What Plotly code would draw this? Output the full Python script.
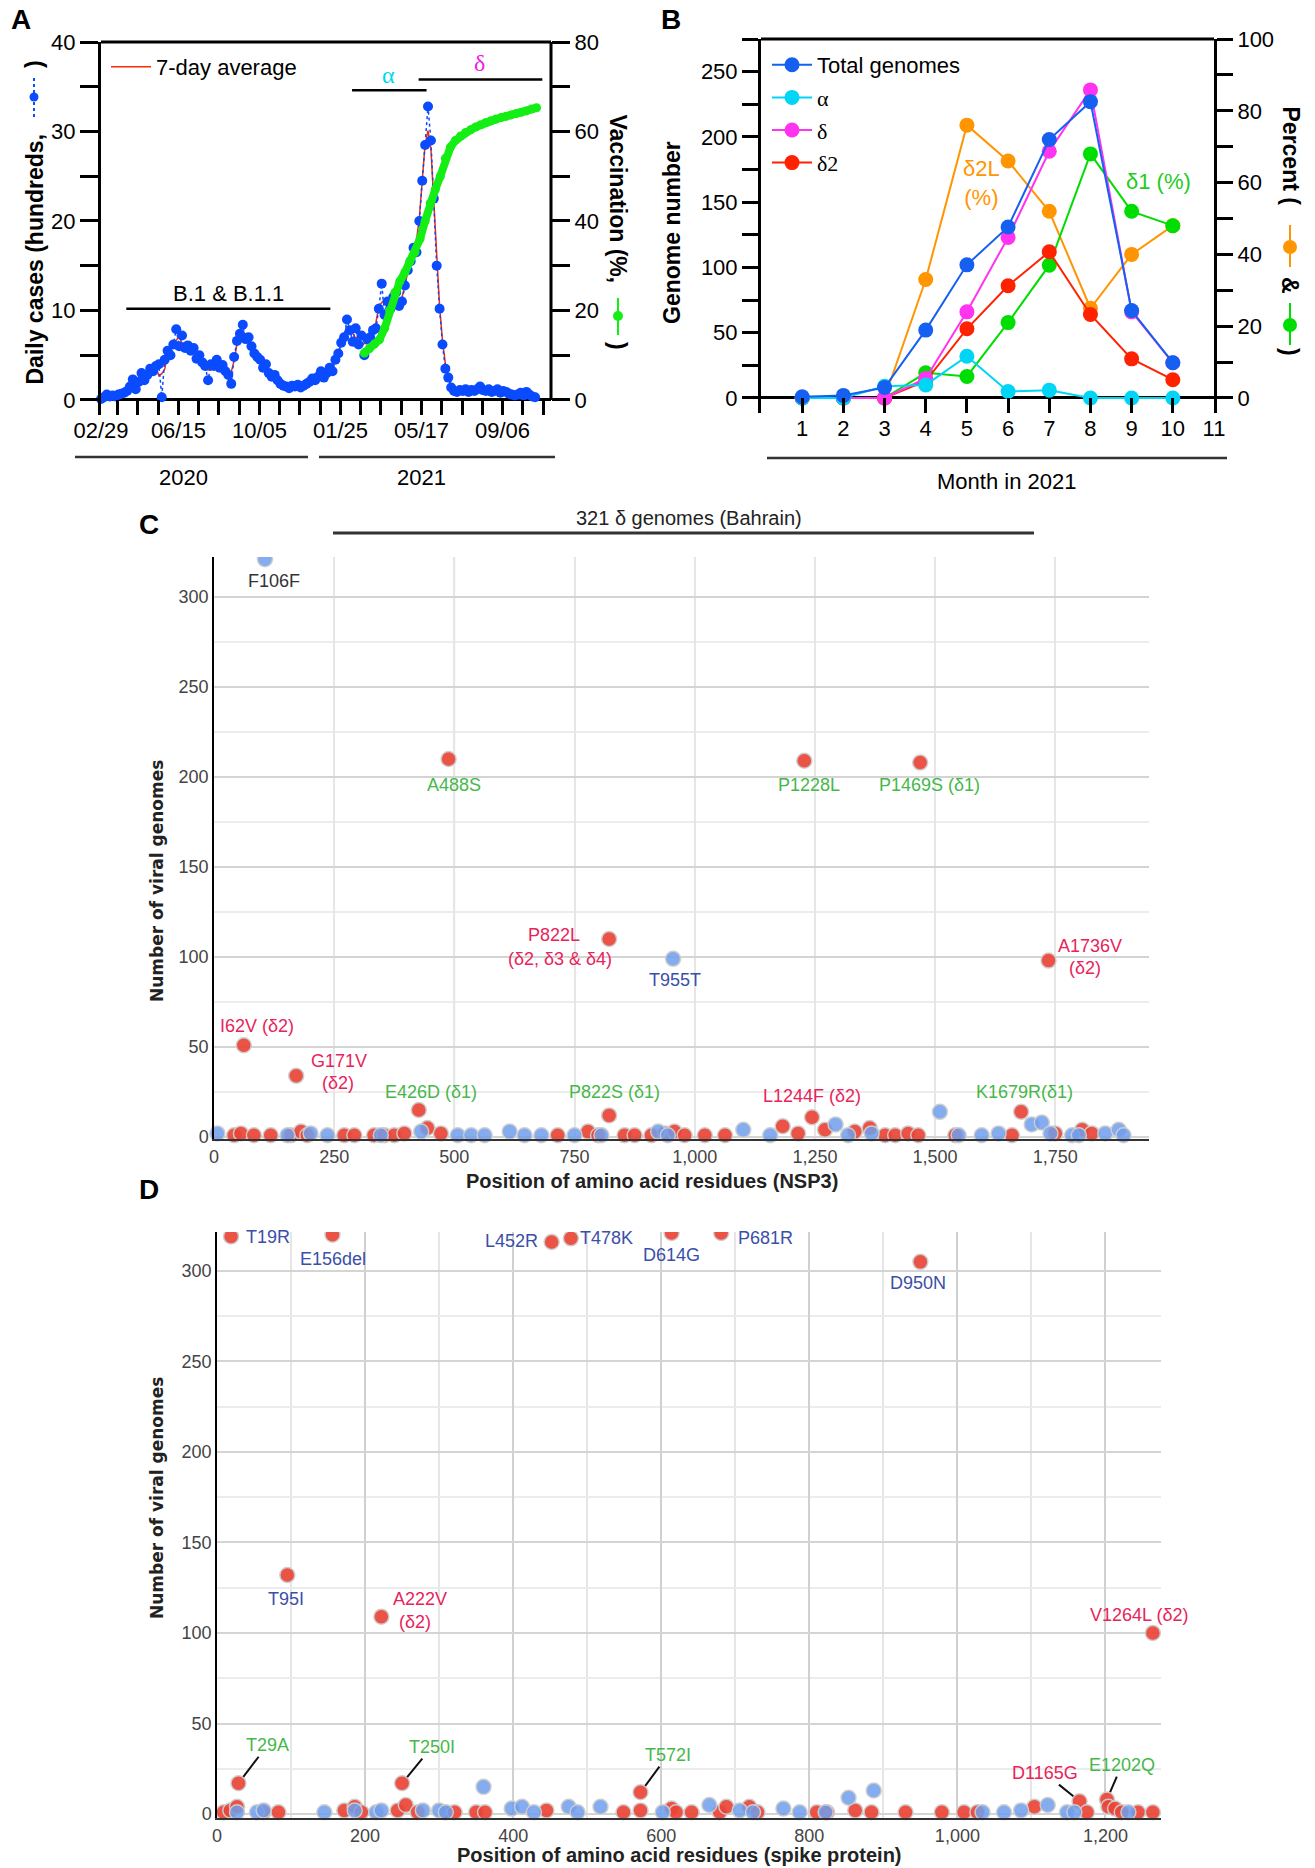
import plotly.graph_objects as go
import pandas as pd

# ------------------------------------------------------------------ data
# Panel A: daily cases in Bahrain (hundreds), sampled every 4 days from 2020-02-29
case_start = "2020-02-29"
daily_cases = [0.1, 0.3, 0.6, 0.4, 0.5, 0.4, 0.6, 0.7, 0.8, 1.0, 1.5, 2.3, 1.2, 2.0, 3.0, 2.2, 2.8, 3.5, 3.2, 3.8,
               4.0, 0.3, 4.5, 5.5, 5.0, 6.2, 7.9, 6.0, 7.2, 5.8, 6.1, 5.5, 5.8, 4.6, 5.0, 4.2, 3.8, 2.2, 4.0, 3.8,
               4.5, 3.6, 3.9, 3.2, 2.8, 1.8, 4.8, 6.6, 7.4, 8.4, 6.8, 7.0, 6.0, 5.2, 4.8, 4.5, 3.6, 4.0, 3.0, 2.6,
               2.8, 2.2, 1.8, 1.6, 1.5, 1.3, 1.6, 1.5, 1.7, 1.4, 1.6, 1.8, 2.0, 2.4, 2.2, 2.6, 3.2, 2.5, 3.0, 3.6,
               3.2, 4.5, 5.2, 6.4, 7.0, 9.0, 7.8, 6.5, 8.0, 6.2, 7.2, 5.0, 6.8, 7.0, 7.8, 8.0, 10.2, 13.0, 9.5, 11.0,
               10.2, 11.5, 12.0, 10.5, 11.0, 12.8, 14.5, 15.5, 17.0, 16.5, 20.0, 24.5, 28.5, 32.8, 29.0, 22.5, 15.0, 10.2, 6.2, 3.5,
               2.5, 1.4, 1.0, 0.9, 1.1, 1.0, 1.2, 0.9, 1.1, 1.0, 1.2, 1.5, 1.1, 1.0, 1.2, 0.9, 1.0, 1.2, 0.8, 1.0,
               0.9, 0.7, 0.6, 0.5, 0.6, 0.8, 0.5, 0.9, 0.6, 0.4, 0.3]
# vaccination (%), weekly from 2021-02-27
vacc_start = "2021-02-27"
vaccination = [10.5, 11.5, 12.5, 13.5, 16, 20, 24, 26.5, 28.5, 31, 33, 36, 40, 44, 47, 50, 54, 56.5, 58, 59,
               59.8, 60.4, 61, 61.5, 62, 62.4, 62.8, 63.1, 63.4, 63.7, 64, 64.3, 64.6, 65, 65.3]
a_tick_dates = ["2020-02-29", "2020-06-15", "2020-10-05", "2021-01-25", "2021-05-17", "2021-09-06"]
a_tick_text = ["02/29", "06/15", "10/05", "01/25", "05/17", "09/06"]

# Panel B: genomes per month of 2021
months = [1, 2, 3, 4, 5, 6, 7, 8, 9, 10]
total_genomes = [1, 2, 8, 52, 102, 131, 198, 227, 67, 27]
alpha_genomes = [0, 0, 9, 10, 32, 5, 6, 0, 0, 0]
delta_genomes = [0, 0, 0, 15, 66, 123, 189, 236, 66, 27]
delta2_genomes = [0, 0, 0, 13, 53, 86, 112, 64, 30, 14]
delta2L_pct = [0, 0, 0, 33, 76, 66, 52, 25, 40, 48]
delta1_pct = [0, 0, 0, 7, 6, 21, 37, 68, 52, 48]

# Panel C: NSP3 mutations (position, number of genomes)
nsp3_red_pos = [62, 171, 426, 488, 822, 822, 1228, 1244, 1469, 1679, 1736,
                42, 56, 83, 118, 160, 181, 194, 271, 292, 333, 354, 375, 396, 444, 472,
                715, 778, 799, 854, 875, 910, 938, 958, 979, 1021, 1063,
                1183, 1215, 1271, 1333, 1364, 1396, 1417, 1444, 1465, 1542, 1660, 1750, 1806, 1826]
nsp3_red_cnt = [51, 34, 15, 210, 110, 12, 209, 11, 208, 14, 98,
                1, 2, 1, 1, 1, 3, 1, 1, 1, 1, 1, 1, 2, 5, 2,
                1, 3, 1, 1, 1, 1, 2, 3, 1, 1, 1,
                6, 2, 4, 3, 5, 1, 1, 2, 1, 1, 1, 2, 4, 2]
nsp3_blue_pos = [106, 955, 1510, 7, 153, 201, 236, 347, 431, 507, 535, 563, 615,
                 646, 681, 750, 806, 924, 944, 1101, 1157, 1293, 1319,
                 1368, 1549, 1597, 1632, 1701, 1722, 1740, 1785, 1799, 1854, 1882, 1892]
nsp3_blue_cnt = [321, 99, 14, 2, 1, 2, 1, 1, 3, 1, 1, 1, 3,
                 1, 1, 1, 1, 3, 1, 4, 1, 7, 1,
                 2, 1, 1, 2, 7, 8, 2, 1, 1, 2, 4, 1]

# Panel D: spike mutations
spike_red_pos = [19, 156, 452, 478, 614, 681, 950, 95, 222, 1264, 29, 250, 572, 1165, 1202,
                 9, 18, 27, 63, 83, 172, 186, 195, 244, 255, 271, 308, 321, 350, 362, 445, 549, 572, 614, 620,
                 641, 679, 688, 719, 730, 810, 824, 862, 884, 930, 979, 1009, 1027, 1104, 1175, 1204, 1213, 1222, 1244, 1264]
spike_red_cnt = [319, 320, 316, 318, 321, 321, 305, 132, 109, 100, 17, 17, 12, 7, 8,
                 1, 2, 4, 1, 1, 2, 4, 1, 2, 5, 1, 1, 1, 1, 1, 2, 1, 2, 3, 1,
                 1, 1, 4, 4, 1, 1, 1, 2, 1, 1, 1, 1, 1, 4, 1, 4, 3, 1, 1, 1]
spike_blue_pos = [360, 887, 853, 1122, 27, 54, 63, 145, 186, 215, 222, 278, 300, 309, 398, 412, 428,
                  475, 487, 518, 602, 665, 706, 724, 765, 787, 822, 1034, 1063, 1086, 1148, 1158, 1231]
spike_blue_cnt = [15, 13, 9, 5, 1, 1, 2, 1, 2, 1, 2, 2, 2, 1, 3, 4, 1,
                  4, 1, 4, 1, 5, 2, 1, 3, 1, 1, 1, 1, 2, 1, 1, 1]

# ------------------------------------------------------------------ helpers
W, H = 1315, 1868
def PX(x): return x / W
def PY(y): return 1 - y / H

FONT = "Liberation Sans, Arial, Helvetica, sans-serif"
SERIF = "Liberation Serif, Times New Roman, serif"
PINK = "#E8235A"
GREEN_T = "#45B84A"
BLUE_T = "#3A4FA8"

fig = go.Figure()

# ------------------------------------------------------------------ panel A
dates = pd.date_range(case_start, periods=len(daily_cases), freq="4D")
avg7 = pd.Series(daily_cases).rolling(3, center=True, min_periods=1).mean()
fig.add_trace(go.Scatter(x=dates, y=avg7, mode="lines", xaxis="x", yaxis="y", name="7-day average",
                         line=dict(color="#FF2A00", width=1.5), legend="legend"))
fig.add_trace(go.Scatter(x=dates, y=daily_cases, mode="lines+markers", xaxis="x", yaxis="y",
                         line=dict(color="#0A4BFF", width=1.5, dash="dot"),
                         marker=dict(color="#0A4BFF", size=10), showlegend=False, cliponaxis=False))
vdates = pd.date_range(vacc_start, periods=len(vaccination), freq="7D")
fig.add_trace(go.Scatter(x=vdates, y=vaccination, mode="lines+markers", xaxis="x", yaxis="y2",
                         line=dict(color="#14EE14", width=8), marker=dict(color="#14EE14", size=9),
                         showlegend=False))

# ------------------------------------------------------------------ panel B
B_ORANGE, B_GREEN = "#FF9500", "#00DD00"
B_RED, B_MAG, B_CYAN, B_BLUE = "#FF2200", "#FF33F0", "#00D5F5", "#1560F0"
fig.add_trace(go.Scatter(x=months, y=delta2L_pct, mode="lines+markers", xaxis="x2", yaxis="y4",
                         line=dict(color=B_ORANGE, width=2), marker=dict(color=B_ORANGE, size=15),
                         showlegend=False, cliponaxis=False))
fig.add_trace(go.Scatter(x=months, y=delta1_pct, mode="lines+markers", xaxis="x2", yaxis="y4",
                         line=dict(color=B_GREEN, width=2), marker=dict(color=B_GREEN, size=15),
                         showlegend=False, cliponaxis=False))
b_series = [
    (delta2_genomes, B_RED, "δ2", 4),
    (delta_genomes, B_MAG, "δ", 3),
    (alpha_genomes, B_CYAN, "α", 2),
    (total_genomes, B_BLUE, "Total genomes", 1),
]
for vals, col, nm, rank in b_series:
    label = nm if nm == "Total genomes" else f'<span style="font-family:{SERIF}">{nm}</span>'
    fig.add_trace(go.Scatter(x=months, y=vals, mode="lines+markers", xaxis="x2", yaxis="y3",
                             name=label, legend="legend2", legendrank=rank, legendgroup=nm,
                             line=dict(color=col, width=2), marker=dict(color=col, size=15),
                             cliponaxis=False))

# ------------------------------------------------------------------ panels C & D (scatter)
RED_M = dict(color="rgba(234,68,55,0.92)", size=15, line=dict(color="rgba(205,205,205,0.95)", width=1.5))
BLUE_M = dict(color="rgba(112,158,236,0.85)", size=15, line=dict(color="rgba(205,205,205,0.95)", width=1.5))

def add_points(pos, cnt, marker, xa, ya):
    lo = [(p, c) for p, c in zip(pos, cnt) if c < 300]
    hi = [(p, c) for p, c in zip(pos, cnt) if c >= 300]
    for pts, clip in ((lo, False), (hi, True)):
        if not pts:
            continue
        fig.add_trace(go.Scatter(x=[p for p, _ in pts], y=[c for _, c in pts], mode="markers",
                                 xaxis=xa, yaxis=ya, marker=marker, showlegend=False, cliponaxis=clip))

add_points(nsp3_red_pos, nsp3_red_cnt, RED_M, "x3", "y5")
add_points(nsp3_blue_pos, nsp3_blue_cnt, BLUE_M, "x3", "y5")
add_points(spike_red_pos, spike_red_cnt, RED_M, "x4", "y6")
add_points(spike_blue_pos, spike_blue_cnt, BLUE_M, "x4", "y6")

# ------------------------------------------------------------------ layout
annotations = []
shapes = []

def ann(text, x, y, xref="paper", yref="paper", size=18, color="black", family=FONT, **kw):
    d = dict(text=text, x=x, y=y, xref=xref, yref=yref, showarrow=False, xanchor="center", yanchor="middle",
             font=dict(size=size, color=color, family=family))
    d.update(kw)
    annotations.append(d)

def pline(x0, y0, x1, y1, color="black", width=2, dash=None):
    shapes.append(dict(type="line", xref="paper", yref="paper", x0=PX(x0), x1=PX(x1), y0=PY(y0), y1=PY(y1),
                       line=dict(color=color, width=width, dash=dash)))

def pcircle(cx, cy, r, color):
    shapes.append(dict(type="circle", xref="paper", yref="paper", x0=PX(cx - r), x1=PX(cx + r),
                       y0=PY(cy + r), y1=PY(cy - r), fillcolor=color, line=dict(color=color, width=0)))

# panel letters
for t, x, y in (("A", 21, 20), ("B", 671, 20), ("C", 149, 524), ("D", 149, 1189)):
    ann(f"<b>{t}</b>", PX(x), PY(y), size=28)

# ---- A decorations
ann("<b>Daily cases (hundreds,</b>", PX(34), PY(132), size=23, textangle=-90, yanchor="top")
ann("<b>)</b>", PX(34), PY(64), size=23, textangle=-90)
pline(34, 78, 34, 117, color="#0A4BFF", width=2, dash="dot")
pcircle(34, 97, 4.5, "#0A4BFF")
ann("<b>Vaccination (%,</b>", PX(618), PY(112), size=23, textangle=90, yanchor="top")
ann("<b>)</b>", PX(618), PY(346), size=23, textangle=90)
pline(618, 298, 618, 335, color="#14EE14", width=2)
pcircle(618, 316, 5, "#14EE14")
pline(75, 457, 308, 457, color="#333", width=2.5)
pline(319, 457, 555, 457, color="#333", width=2.5)
ann("2020", PX(183), PY(478), size=22)
ann("2021", PX(421), PY(478), size=22)
# variant periods
shapes.append(dict(type="line", xref="x", yref="y", x0="2020-04-04", x1="2021-01-11", y0=10.2, y1=10.2,
                   line=dict(color="black", width=2.5)))
ann("B.1 &amp; B.1.1", "2020-08-23", 11.9, xref="x", yref="y", size=22)
shapes.append(dict(type="line", xref="x", yref="y", x0="2021-02-10", x1="2021-05-24", y0=34.6, y1=34.6,
                   line=dict(color="black", width=2.5)))
ann("α", "2021-04-02", 36.3, xref="x", yref="y", size=24, color="#00D8F0", family=SERIF)
shapes.append(dict(type="line", xref="x", yref="y", x0="2021-05-13", x1="2021-10-31", y0=35.8, y1=35.8,
                   line=dict(color="black", width=2.5)))
ann("δ", "2021-08-05", 37.6, xref="x", yref="y", size=24, color="#F020E6", family=SERIF)
# frame
shapes.append(dict(type="line", xref="x domain", yref="y domain", x0=0, x1=1, y0=1, y1=1,
                   line=dict(color="black", width=3)))
shapes.append(dict(type="line", xref="x domain", yref="y2", x0=1, x1=1, y0=0, y1=80,
                   line=dict(color="black", width=3)))

# ---- B decorations
ann("<b>Genome number</b>", PX(672), PY(233), size=23, textangle=-90)
ann("<b>Percent (</b>", PX(1290), PY(104), size=23, textangle=90, yanchor="top")
ann("<b>&amp;</b>", PX(1290), PY(285), size=23, textangle=90)
ann("<b>)</b>", PX(1290), PY(352), size=23, textangle=90)
pline(1290, 225, 1290, 267, color=B_ORANGE, width=2)
pcircle(1290, 247, 7, B_ORANGE)
pline(1290, 303, 1290, 345, color=B_GREEN, width=2)
pcircle(1290, 325, 7, B_GREEN)
pline(767, 458, 1227, 458, color="#333", width=2.5)
ann("Month in 2021", PX(1006), PY(481), size=22)
ann("δ2L<br>(%)", 5.35, 60, xref="x2", yref="y4", size=22, color=B_ORANGE)
ann("δ1 (%)", 9.66, 60.3, xref="x2", yref="y4", size=22, color="#22CC22")
shapes.append(dict(type="line", xref="x2 domain", yref="y4 domain", x0=0, x1=1, y0=1, y1=1,
                   line=dict(color="black", width=3)))

# ---- C decorations
ann("321 δ genomes (Bahrain)", PX(689), PY(518), size=20, color="#222")
pline(333, 533, 1034, 533, color="#333", width=3)
ann("<b>Position of amino acid residues (NSP3)</b>", PX(652), PY(1181), size=20, color="#222")
ann("<b>Number of viral genomes</b>", PX(157), PY(881), size=17, color="#222",
    family="DejaVu Sans, Verdana, sans-serif", textangle=-90)
for gx in (500, 1000, 1500):
    shapes.append(dict(type="line", xref="x3", yref="y5 domain", x0=gx, x1=gx, y0=0, y1=1, layer="below",
                       line=dict(color="#D0D0D0", width=1.5)))
c_labels = [
    ("F106F", 125, 309, "#333"), ("A488S", 499, 195.5, GREEN_T), ("P1228L", 1237, 195.5, GREEN_T),
    ("P1469S (δ1)", 1489, 195.5, GREEN_T), ("P822L", 708, 112, PINK), ("(δ2, δ3 &amp; δ4)", 719, 99, PINK),
    ("T955T", 958, 87, BLUE_T), ("A1736V", 1823, 106, PINK), ("(δ2)", 1812, 94, PINK),
    ("I62V (δ2)", 90, 61.7, PINK), ("G171V", 261, 42.5, PINK), ("(δ2)", 257, 30, PINK),
    ("E426D (δ1)", 451, 24.8, GREEN_T), ("P822S (δ1)", 833, 24.8, GREEN_T),
    ("L1244F (δ2)", 1243, 23, PINK), ("K1679R(δ1)", 1687, 24.8, GREEN_T),
]
for t, x, y, c in c_labels:
    ann(t, x, y, xref="x3", yref="y5", size=18, color=c)

# ---- D decorations
ann("<b>Position of amino acid residues (spike protein)</b>", PX(679), PY(1855), size=20, color="#222")
ann("<b>Number of viral genomes</b>", PX(157), PY(1498), size=17, color="#222",
    family="DejaVu Sans, Verdana, sans-serif", textangle=-90)
d_labels = [
    ("T19R", 36, 319, BLUE_T, "left"), ("E156del", 156, 306.6, BLUE_T, "center"),
    ("L452R", 436, 316.5, BLUE_T, "right"), ("T478K", 488, 318, BLUE_T, "left"),
    ("D614G", 614, 309, BLUE_T, "center"), ("P681R", 701, 318, BLUE_T, "left"),
    ("D950N", 947, 293.5, BLUE_T, "center"), ("T95I", 93, 118.8, BLUE_T, "center"),
    ("A222V", 274, 118.8, PINK, "center"), ("(δ2)", 267, 106, PINK, "center"),
    ("V1264L (δ2)", 1245, 110, PINK, "center"),
]
for t, x, y, c, xa in d_labels:
    ann(t, x, y, xref="x4", yref="y6", size=18, color=c, xanchor=xa)
d_arrows = [
    ("T29A", 29, 17, 68, 38, GREEN_T), ("T250I", 250, 17, 290, 37, GREEN_T),
    ("T572I", 572, 12, 609, 32.5, GREEN_T), ("D1165G", 1165, 7, 1118, 22.6, PINK),
    ("E1202Q", 1202, 8, 1222, 27, GREEN_T),
]
for t, x, y, tx, ty, c in d_arrows:
    annotations.append(dict(text=t, x=x, y=y, xref="x4", yref="y6", ax=tx, ay=ty, axref="x4", ayref="y6",
                            showarrow=True, arrowhead=0, arrowwidth=2, arrowcolor="#111", standoff=8,
                            font=dict(size=18, color=c, family=FONT)))

# ------------------------------------------------------------------ axes
TICKF = dict(size=22, color="black", family=FONT)
minor_a_x = pd.date_range("2020-03-23", "2021-11-12", freq="28D")
GRID_MAJ, GRID_MIN = "#D4D4D4", "#ECECEC"
TICKCD = dict(size=18, color="#444", family=FONT)

fig.update_layout(
    width=W, height=H, margin=dict(l=0, r=0, t=0, b=0, autoexpand=False),
    paper_bgcolor="white", plot_bgcolor="rgba(0,0,0,0)",
    font=dict(family=FONT, color="black"),
    legend=dict(x=PX(106), y=PY(46), xanchor="left", yanchor="top", bgcolor="rgba(0,0,0,0)",
                font=dict(size=22, family=FONT), itemwidth=40),
    legend2=dict(x=PX(767), y=PY(44), xanchor="left", yanchor="top", bgcolor="rgba(0,0,0,0)",
                 font=dict(size=22, family=FONT), tracegroupgap=1, itemwidth=40),
    # --- A
    xaxis=dict(domain=[PX(101), PX(551)], anchor="y", type="date", range=["2020-02-29", "2021-11-12"],
               tickmode="array", tickvals=a_tick_dates, ticktext=a_tick_text,
               ticks="inside", ticklen=15, tickwidth=3, tickcolor="black",
               minor=dict(ticks="inside", ticklen=15, tickwidth=3, tickcolor="black",
                          tickmode="array", tickvals=list(minor_a_x)),
               showline=False, showgrid=False, zeroline=False, tickfont=TICKF, automargin=False),
    yaxis=dict(domain=[PY(415), PY(42)], anchor="x", range=[-1.68, 40], tick0=0, dtick=10,
               ticks="outside", ticklen=18, tickwidth=3, tickcolor="black",
               minor=dict(ticks="outside", ticklen=18, tickwidth=3, tickcolor="black", dtick=5, tick0=0),
               showline=True, linewidth=3, linecolor="black", showgrid=False,
               zeroline=True, zerolinewidth=3, zerolinecolor="black", tickfont=TICKF, automargin=False),
    yaxis2=dict(overlaying="y", side="right", anchor="x", range=[-3.36, 80], tick0=0, dtick=20,
                ticks="outside", ticklen=18, tickwidth=3, tickcolor="black",
                minor=dict(ticks="outside", ticklen=18, tickwidth=3, tickcolor="black", dtick=10, tick0=0),
                showline=False, showgrid=False, zeroline=False, tickfont=TICKF, automargin=False),
    # --- B
    xaxis2=dict(domain=[PX(761), PX(1214)], anchor="y4", range=[0, 11], tickmode="array",
                tickvals=list(range(1, 12)), ticks="inside", ticklen=15, tickwidth=3, tickcolor="black",
                showline=False, showgrid=False, zeroline=False, tickfont=TICKF, automargin=False),
    yaxis4=dict(domain=[PY(413), PY(39)], anchor="x2", side="right", range=[-4.18, 100], tick0=0, dtick=20,
                ticks="outside", ticklen=16, tickwidth=3, tickcolor="black",
                minor=dict(ticks="outside", ticklen=16, tickwidth=3, tickcolor="black", dtick=10, tick0=0),
                showline=True, linewidth=3, linecolor="black", showgrid=False, zeroline=False, tickfont=TICKF,
                automargin=False),
    yaxis3=dict(overlaying="y4", side="left", anchor="x2", range=[-11.5, 275], tick0=0, dtick=50,
                ticks="outside", ticklen=16, tickwidth=3, tickcolor="black",
                minor=dict(ticks="outside", ticklen=16, tickwidth=3, tickcolor="black", dtick=25, tick0=0),
                showline=True, linewidth=3, linecolor="black", showgrid=False,
                zeroline=True, zerolinewidth=3, zerolinecolor="black", tickfont=TICKF, automargin=False),
    # --- C
    xaxis3=dict(domain=[PX(214), PX(1149)], anchor="y5", range=[0, 1945], tickmode="array",
                tickvals=[0, 250, 500, 750, 1000, 1250, 1500, 1750], tickformat=",d",
                showgrid=True, gridcolor="#E6E6E6", gridwidth=1.5, showline=True, linecolor="#333",
                linewidth=2, zeroline=False, ticks="", ticklen=0, tickfont=TICKCD, automargin=False),
    yaxis5=dict(domain=[PY(1139), PY(557)], anchor="x3", range=[-1.1, 322.2], tick0=0, dtick=50,
                showgrid=True, gridcolor=GRID_MAJ, gridwidth=2,
                minor=dict(dtick=25, tick0=0, showgrid=True, gridcolor=GRID_MIN, gridwidth=1.5),
                showline=True, linecolor="black", linewidth=1.5, zeroline=False, ticks="", ticklen=0,
                tickfont=TICKCD, automargin=False),
    # --- D
    xaxis4=dict(domain=[PX(217), PX(1161)], anchor="y6", range=[0, 1275], tick0=0, dtick=200,
                tickformat=",d", showgrid=True, gridcolor="#D0D0D0", gridwidth=1.5,
                minor=dict(dtick=100, tick0=0, showgrid=True, gridcolor="#E6E6E6", gridwidth=1.5),
                showline=True, linecolor="#333", linewidth=2, zeroline=False, ticks="", ticklen=0,
                tickfont=TICKCD, automargin=False),
    yaxis6=dict(domain=[PY(1818), PY(1232)], anchor="x4", range=[-2.2, 321.5], tick0=0, dtick=50,
                showgrid=True, gridcolor=GRID_MAJ, gridwidth=2,
                minor=dict(dtick=25, tick0=0, showgrid=True, gridcolor=GRID_MIN, gridwidth=1.5),
                showline=True, linecolor="black", linewidth=1.5, zeroline=False, ticks="", ticklen=0,
                tickfont=TICKCD, automargin=False),
    annotations=annotations,
    shapes=shapes,
)

fig.write_html("out.html", config={"displayModeBar": False},
               post_script="document.body.style.margin='0px';")
